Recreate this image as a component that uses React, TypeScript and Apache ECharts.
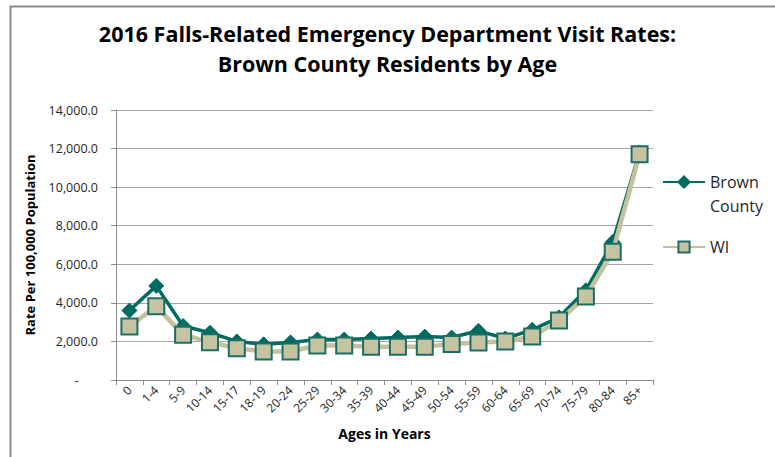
import React, { useEffect, useRef } from "react";
import * as echarts from "echarts";

const ageGroups = [
  "0", "1-4", "5-9", "10-14", "15-17", "18-19", "20-24", "25-29", "30-34", "35-39",
  "40-44", "45-49", "50-54", "55-59", "60-64", "65-69", "70-74", "75-79", "80-84", "85+",
];

const brownCountyRates = [
  3600, 4880, 2800, 2450, 2000, 1850, 1950, 2100, 2100, 2150,
  2200, 2250, 2200, 2550, 2150, 2600, 3250, 4650, 7150, 11800,
];

const wisconsinRates = [
  2780, 3820, 2350, 1960, 1650, 1480, 1480, 1790, 1790, 1730,
  1730, 1730, 1870, 1950, 2000, 2250, 3080, 4330, 6650, 11700,
];

const yTicks = { min: 0, max: 14000, interval: 2000 };

const FONT = "'Open Sans', 'Noto Sans', sans-serif";
const TEAL = "#006B61";
const TAN = "#C4C19E";

export default function App() {
  const ref = useRef<HTMLDivElement>(null);

  useEffect(() => {
    if (!ref.current) return;
    const chart = echarts.init(ref.current, undefined, { renderer: "svg" });
    chart.setOption({
      animation: false,
      backgroundColor: "#ffffff",
      textStyle: { fontFamily: FONT },
      title: {
        text: "2016 Falls-Related Emergency Department Visit Rates:\nBrown County Residents by Age",
        left: "center",
        top: 13,
        textStyle: {
          fontFamily: FONT,
          fontSize: 21.5,
          fontWeight: "bold",
          color: "#000000",
          lineHeight: 30,
        },
      },
      graphic: [
        {
          type: "rect",
          shape: { x: 10.5, y: 6.5, width: 800, height: 500 },
          style: { fill: "none", stroke: "#8C8C8C", lineWidth: 2 },
          silent: true,
        },
      ],
      legend: [
        {
          data: ["Brown County"],
          orient: "vertical",
          left: 662,
          top: 146,
          padding: 0,
          itemWidth: 42,
          itemHeight: 14,
          // blank first line keeps "Brown" level with the legend icon
          formatter: () => " \nBrown\nCounty",
          textStyle: {
            fontFamily: FONT,
            fontSize: 16,
            color: "#262626",
            lineHeight: 24,
          },
        },
        {
          data: ["WI"],
          orient: "vertical",
          left: 662,
          top: 235,
          padding: 0,
          itemWidth: 42,
          itemHeight: 14,
          textStyle: {
            fontFamily: FONT,
            fontSize: 16,
            color: "#262626",
            lineHeight: 24,
          },
        },
      ],
      grid: {
        left: 116,
        right: 122,
        top: 110,
        bottom: 77,
        outerBoundsMode: "none",
      },
      xAxis: {
        type: "category",
        data: ageGroups,
        boundaryGap: true,
        name: "Ages in Years",
        nameLocation: "middle",
        nameGap: 46,
        nameTextStyle: { fontFamily: FONT, fontSize: 14, fontWeight: "bold", color: "#000000" },
        axisLine: { lineStyle: { color: "#8C8C8C", width: 1 } },
        axisTick: { show: true, length: 5, lineStyle: { color: "#8C8C8C" } },
        axisLabel: {
          rotate: 45,
          interval: 0,
          margin: 8,
          fontFamily: FONT,
          fontSize: 12,
          color: "#262626",
        },
      },
      yAxis: {
        type: "value",
        min: yTicks.min,
        max: yTicks.max,
        interval: yTicks.interval,
        name: "Rate Per 100,000 Population",
        nameLocation: "middle",
        nameGap: 80,
        nameTextStyle: { fontFamily: FONT, fontSize: 13, fontWeight: "bold", color: "#000000" },
        axisLine: { show: true, lineStyle: { color: "#8C8C8C", width: 1 } },
        axisTick: { show: true, length: 5, lineStyle: { color: "#8C8C8C" } },
        axisLabel: {
          margin: 18,
          fontFamily: FONT,
          fontSize: 12.5,
          color: "#262626",
          formatter: (v: number) =>
            v === 0
              ? "-      "
              : v.toLocaleString("en-US", { minimumFractionDigits: 1, maximumFractionDigits: 1 }),
        },
        splitLine: { show: true, lineStyle: { color: "#A6A6A6", width: 1 } },
      },
      series: [
        {
          name: "Brown County",
          type: "line",
          data: brownCountyRates,
          symbol: "diamond",
          symbolSize: [15, 15],
          lineStyle: { color: TEAL, width: 3.5 },
          itemStyle: { color: TEAL, borderColor: TEAL, borderWidth: 1 },
          z: 2,
        },
        {
          name: "WI",
          type: "line",
          data: wisconsinRates,
          symbol: "rect",
          symbolSize: 16,
          lineStyle: { color: TAN, width: 4.5 },
          itemStyle: { color: "#C5C3A0", borderColor: "#1C6E64", borderWidth: 2 },
          z: 3,
        },
      ],
    });
    return () => chart.dispose();
  }, []);

  return (
    <div
      ref={ref}
      style={{ position: "absolute", left: 0, top: 0, width: 775, height: 457 }}
    />
  );
}
